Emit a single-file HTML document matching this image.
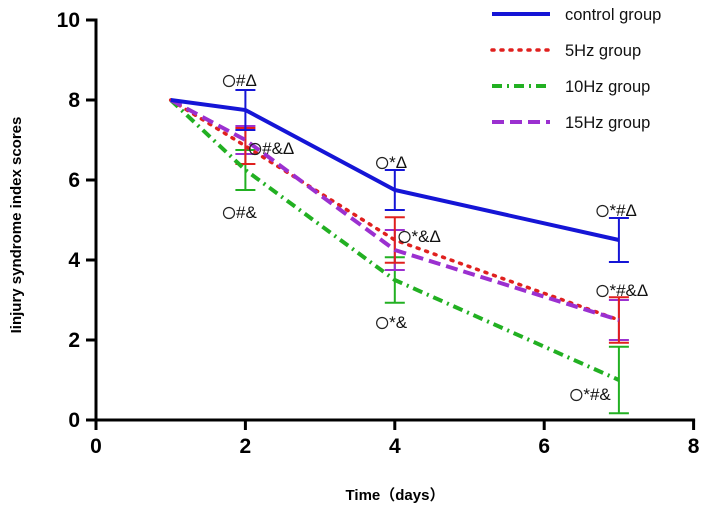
<!DOCTYPE html>
<html><head><meta charset="utf-8"><style>
body{margin:0;background:#fff;}
svg{display:block;font-family:"Liberation Sans","Noto Sans CJK SC",sans-serif;}
</style></head><body>
<svg id="chart" width="712" height="515"></svg>
<script>
const days=[1,2,4,7];
const seriesNames=["control group","5Hz group","10Hz group","15Hz group"];
const controlVals=[8,7.75,5.75,4.5];
const hz5Vals=[8,6.85,4.5,2.5];
const hz10Vals=[8,6.25,3.5,1.0];
const hz15Vals=[8,7.0,4.25,2.5];
const controlErr=[0,0.5,0.5,0.55];
const hz5Err=[0,0.45,0.57,0.57];
const hz10Err=[0,0.5,0.57,0.83];
const hz15Err=[0,0.35,0.5,0.5];
const xTicks=[0,2,4,6,8];
const yTicks=[0,2,4,6,8,10];
const annoText=["#Δ","#&Δ","#&","*Δ","*&Δ","*&","*#Δ","*#&Δ","*#&"];
const annoX=[1.7,2.05,1.7,3.75,4.05,3.75,6.7,6.7,6.35];
const annoY=[8.5,6.8,5.2,6.45,4.6,2.45,5.25,3.25,0.65];

const NS="http://www.w3.org/2000/svg";
const svg=document.getElementById('chart');
const X=v=>96+v*74.7, Y=v=>420-v*40;
function mk(tag,attrs,parent){const e=document.createElementNS(NS,tag);for(const k in attrs)e.setAttribute(k,attrs[k]);(parent||svg).appendChild(e);return e;}
const colors=["#1515d6","#e0201e","#22b022","#9b30d0"];
const dashes=["","2 7","10 5 2 5","12 6"];
const vals=[controlVals,hz5Vals,hz10Vals,hz15Vals];
const errs=[controlErr,hz5Err,hz10Err,hz15Err];
const barOrder=[2,3,1,0];
barOrder.forEach(s=>{
  for(let i=1;i<days.length;i++){
    const g=mk('g',{});
    
    
    const x=X(days[i]),t=Y(vals[s][i]+errs[s][i]),b=Y(vals[s][i]-errs[s][i]);
    mk('line',{x1:x,x2:x,y1:t,y2:b,stroke:colors[s],'stroke-width':2},g);
    mk('line',{x1:x-10,x2:x+10,y1:t,y2:t,stroke:colors[s],'stroke-width':2},g);
    mk('line',{x1:x-10,x2:x+10,y1:b,y2:b,stroke:colors[s],'stroke-width':2},g);
  }
});
[2,1,3,0].forEach(s=>{
  const p=mk('polyline',{points:days.map((d,i)=>X(d)+','+Y(vals[s][i])).join(' '),fill:'none',stroke:colors[s],'stroke-width':s==1?3.5:4,'stroke-dasharray':dashes[s],'stroke-linecap':s==1?'round':'butt'});
  
  
});
annoText.forEach((t,i)=>{
  const g=mk('g',{});
  
  
  const x=X(annoX[i]),y=Y(annoY[i]);
  mk('circle',{cx:x+6,cy:y+1,r:5.5,fill:'none',stroke:'#222','stroke-width':1.2},g);
  const e=mk('text',{x:x+13,y:y+6,'font-size':17,fill:'#111'},g);
  e.textContent=t;
});
const ax=mk('g',{});


mk('line',{x1:96,x2:96,y1:Y(10)-1.5,y2:421.5,stroke:'#000','stroke-width':3},ax);
mk('line',{x1:94.5,x2:X(8)+1.5,y1:420,y2:420,stroke:'#000','stroke-width':3},ax);
yTicks.forEach(v=>{
  mk('line',{x1:86,x2:96,y1:Y(v),y2:Y(v),stroke:'#000','stroke-width':3},ax);
  const t=mk('text',{x:80,y:Y(v)+7,'text-anchor':'end','font-size':21,'font-weight':'bold'},ax);
  t.textContent=v;
  
  
});
xTicks.forEach(v=>{
  mk('line',{x1:X(v),x2:X(v),y1:420,y2:430,stroke:'#000','stroke-width':3},ax);
  const t=mk('text',{x:X(v),y:453,'text-anchor':'middle','font-size':21,'font-weight':'bold'},ax);
  t.textContent=v;
  
  
});
const xt=mk('text',{x:395,y:500,'text-anchor':'middle','font-size':15,'font-weight':'bold'});
xt.textContent="Time（days）";


const yt=mk('text',{x:0,y:0,'text-anchor':'middle','font-size':15,'font-weight':'bold',transform:'translate(21,225) rotate(-90)'});
yt.textContent="Iinjury syndrome index scores";


seriesNames.forEach((n,s)=>{
  const g=mk('g',{});
  
  
  const y=14+s*36;
  mk('line',{x1:492,x2:550,y1:y,y2:y,stroke:colors[s],'stroke-width':s==1?3.5:4,'stroke-dasharray':dashes[s],'stroke-linecap':s==1?'round':'butt'},g);
  const t=mk('text',{x:565,y:y+6,'font-size':16.5,fill:'#111'},g);
  t.textContent=n;
});
</script>
</body></html>
